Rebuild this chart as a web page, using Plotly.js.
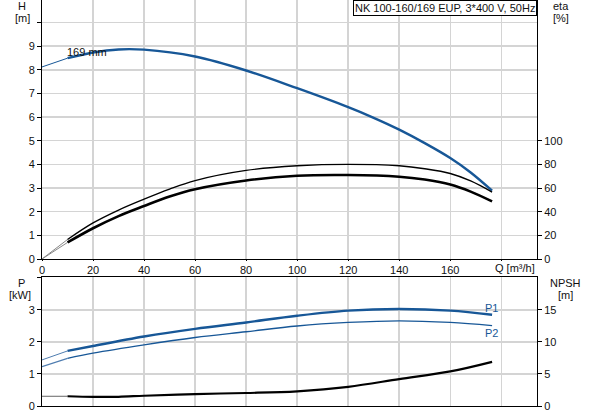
<!DOCTYPE html>
<html>
<head>
<meta charset="utf-8">
<script src="https://cdn.plot.ly/plotly-3.0.1.min.js"></script>
<style>
  html, body { margin: 0; padding: 0; background: #fff; }
  #chart { width: 593px; height: 415px; }
</style>
</head>
<body>
<div id="chart"></div>
<script>
// flow points [m3/h]
const qH = [0, 10, 20, 30, 40, 60, 80, 100, 120, 130, 140, 150, 160, 168, 176.4]
const head = [8.12, 8.49, 8.73, 8.86, 8.85, 8.56, 7.97, 7.22, 6.42, 5.97, 5.47, 4.9, 4.27, 3.66, 2.89]

const qEta = [0, 10, 20, 30, 40, 50, 60, 80, 100, 120, 140, 150, 160, 168, 176.4]
const etaUpper = [0, 16.5, 30.5, 41.4, 50.6, 59.1, 66.3, 74.9, 78.8, 80, 78.8, 76.3, 72.3, 66, 56.6]
const etaLower = [0, 14, 26, 36.3, 44.8, 52.8, 59, 66.4, 70.4, 71, 69.6, 67.2, 63, 57, 48.7]

const qP = [0, 10, 20, 40, 60, 80, 100, 120, 140, 160, 176.4]
const p1 = [1.44, 1.72, 1.875, 2.17, 2.41, 2.61, 2.82, 2.98, 3.03, 2.98, 2.85]
const p2 = [1.23, 1.49, 1.65, 1.91, 2.14, 2.32, 2.5, 2.61, 2.66, 2.61, 2.51]

const qNpsh = [0, 10, 20, 30, 40, 60, 80, 100, 120, 140, 160, 176.4]
const npsh = [1.52, 1.52, 1.43, 1.44, 1.6, 1.87, 2.03, 2.3, 3.0, 4.2, 5.4, 6.9]

const qTicks = [0, 20, 40, 60, 80, 100, 120, 140, 160, 180]
const qTickText = ['0', '20', '40', '60', '80', '100', '120', '140', '160', '']

const BLUE = '#175797'
const FONT = 'Liberation Sans, Arial, sans-serif'

// first two points = extrapolated part, drawn thin
function split(x, y, xa, ya, color, thinW, thickW, thinColor) {
  return [
    {x: x.slice(0, 2), y: y.slice(0, 2), xaxis: xa, yaxis: ya, mode: 'lines',
      line: {color: thinColor || color, width: thinW}, hoverinfo: 'skip'},
    {x: x.slice(1), y: y.slice(1), xaxis: xa, yaxis: ya, mode: 'lines',
      line: {color, width: thickW, shape: 'spline', smoothing: 1}, hoverinfo: 'skip'},
  ]
}

let traces = [
  ...split(qH, head, 'x', 'y', BLUE, 1, 2.4),
  ...split(qEta, etaUpper, 'x', 'y2', '#000', 1, 1.4, '#888'),
  ...split(qEta, etaLower, 'x', 'y2', '#000', 1, 2.6, '#888'),
  ...split(qP, p1, 'x2', 'y3', BLUE, 1, 2.4, '#4f7db0'),
  ...split(qP, p2, 'x2', 'y3', BLUE, 1.2, 1.3, '#4f7db0'),
  ...split(qNpsh, npsh, 'x2', 'y4', '#000', 1, 2.2, '#666'),
]

const grid = '#d4d4d4'
const tickfont = {family: FONT, size: 11, color: '#111'}
const common = {
  showline: true, linecolor: '#000', linewidth: 1,
  ticks: 'outside', ticklen: 4, tickcolor: '#000',
  tickfont, gridcolor: grid, gridwidth: 1.5, zeroline: false, fixedrange: true,
}

// pixel helpers for paper coordinates
const L = 42, R = 56, T = 0, B = 9, W = 593, H = 415
const pw = W - L - R, ph = H - T - B
const px = v => (v - L) / pw
const py = v => (H - B - v) / ph

function label(text, x, y, extra) {
  return {text, xref: 'paper', yref: 'paper', x: px(x), y: py(y),
    xanchor: 'center', yanchor: 'middle', showarrow: false, ...extra}
}

const layout = {
  width: W, height: H,
  margin: {l: L, r: R, t: T, b: B},
  paper_bgcolor: '#fff', plot_bgcolor: '#fff',
  showlegend: false,
  font: {family: FONT, size: 11, color: '#111'},
  xaxis: {...common, domain: [0, 1], anchor: 'y', range: [0, 194], ticklen: 1,
    tickvals: qTicks, ticktext: qTickText, mirror: true},
  yaxis: {...common, domain: [py(259), 1], anchor: 'x', range: [0, 10.95],
    tickvals: [0, 1, 2, 3, 4, 5, 6, 7, 8, 9, 10], ticktext: ['0', '1', '2', '3', '4', '5', '6', '7', '8', '9', '']},
  yaxis2: {...common, overlaying: 'y', side: 'right', anchor: 'x', range: [0, 219],
    tickvals: [0, 20, 40, 60, 80, 100], showgrid: false},
  xaxis2: {...common, domain: [0, 1], anchor: 'y3', range: [0, 194],
    tickvals: qTicks, showticklabels: false, ticks: '', mirror: true},
  yaxis3: {...common, domain: [0, py(277)], anchor: 'x2', range: [0, 4.03],
    tickvals: [0, 1, 2, 3, 4], ticktext: ['0', '1', '2', '3', '']},
  yaxis4: {...common, overlaying: 'y3', side: 'right', anchor: 'x2', range: [0, 20.15],
    tickvals: [0, 5, 10, 15], showgrid: false},
  annotations: [
    {text: 'NK 100-160/169 EUP, 3*400 V, 50Hz', xref: 'paper', yref: 'paper', x: 1, y: 1,
      xanchor: 'right', yanchor: 'top', showarrow: false, bgcolor: '#fff',
      bordercolor: '#000', borderwidth: 1, borderpad: 1, font: {size: 11}},
    label('H', 22, 6),
    label('[m]', 22, 18),
    label('eta', 561, 6),
    label('[%]', 561, 18),
    label('P', 21, 283),
    label('[kW]', 20, 295),
    label('NPSH', 565, 283),
    label('[m]', 565, 295),
    label('Q [m³/h]', 515, 268),
    {text: '169 mm', xref: 'x', yref: 'y', x: 17.6, y: 8.76, showarrow: false},
    {text: 'P1', xref: 'x2', yref: 'y3', x: 176, y: 3.06, showarrow: false, font: {color: BLUE}},
    {text: 'P2', xref: 'x2', yref: 'y3', x: 176, y: 2.29, showarrow: false, font: {color: BLUE}},
  ],
}

Plotly.newPlot('chart', traces, layout, {staticPlot: true})
</script>
</body>
</html>
